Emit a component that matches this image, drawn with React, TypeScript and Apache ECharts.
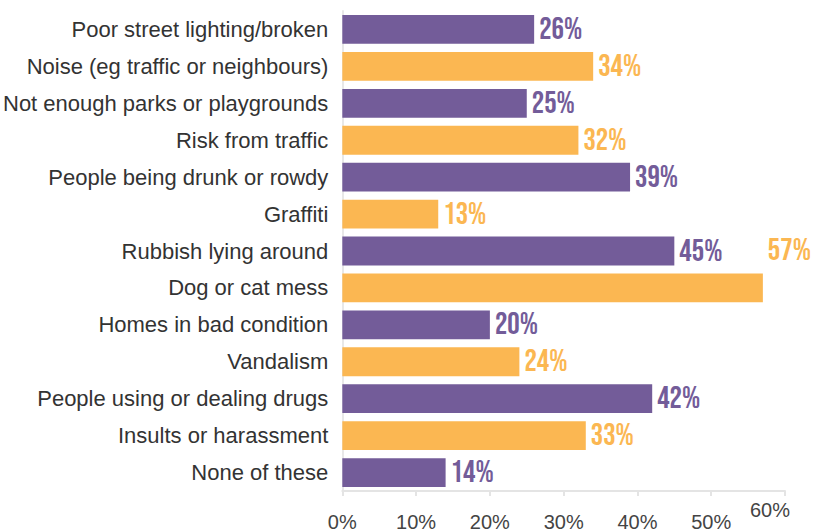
import React, { useEffect, useRef } from "react";
import * as echarts from "echarts";

const categories = [
  "Poor street lighting/broken",
  "Noise (eg traffic or neighbours)",
  "Not enough parks or playgrounds",
  "Risk from traffic",
  "People being drunk or rowdy",
  "Graffiti",
  "Rubbish lying around",
  "Dog or cat mess",
  "Homes in bad condition",
  "Vandalism",
  "People using or dealing drugs",
  "Insults or harassment",
  "None of these",
];
const values = [26, 34, 25, 32, 39, 13, 45, 57, 20, 24, 42, 33, 14];
const xTicks = [0, 10, 20, 30, 40, 50, 60];

const PURPLE = "#735c99";
const ORANGE = "#fbb752";
const LABEL_FONT = "Bebas Neue, Oswald, Roboto Condensed, sans-serif";
const AXIS_FONT = "Liberation Sans, Arial, sans-serif";

export default function App() {
  const ref = useRef<HTMLDivElement>(null);
  useEffect(() => {
    const chart = echarts.init(ref.current!, null, { renderer: "svg" });
    const maxV = Math.max(...values);
    const data = values.map((v, i) => {
      const color = i % 2 === 0 ? PURPLE : ORANGE;
      const item: any = {
        value: v,
        itemStyle: { color },
        label: { color },
      };
      if (v === maxV) {
        item.label = { color, offset: [0, -37] };
      }
      return item;
    });
    chart.setOption({
      animation: false,
      grid: { left: 342, right: 39, top: 11, bottom: 37, containLabel: false },
      xAxis: {
        type: "value",
        min: xTicks[0],
        max: xTicks[xTicks.length - 1],
        interval: 10,
        splitLine: { show: false },
        axisLine: { show: true, lineStyle: { color: "#e4e4e4", width: 2 } },
        axisTick: { show: true, length: 5, lineStyle: { color: "#e4e4e4", width: 2 } },
        axisLabel: {
          margin: 9,
          color: "#444",
          fontSize: 20,
          fontFamily: AXIS_FONT,
          formatter: (v: number) =>
            v === xTicks[xTicks.length - 1] ? `{hi|${v}%}` : `{lo|${v}%}`,
          rich: {
            hi: {
              fontSize: 20,
              color: "#444",
              fontFamily: AXIS_FONT,
              padding: [0, 30, 0, 0],
            },
            lo: {
              fontSize: 20,
              color: "#444",
              fontFamily: AXIS_FONT,
              padding: [12, 0, 0, 0],
            },
          },
        },
      },
      yAxis: {
        type: "category",
        inverse: true,
        data: categories,
        axisLine: { show: true, lineStyle: { color: "#e8e8e8", width: 2 } },
        axisTick: { show: false },
        axisLabel: {
          margin: 14,
          color: "#333",
          fontSize: 22,
          fontFamily: AXIS_FONT,
        },
      },
      series: [
        {
          type: "bar",
          data,
          barCategoryGap: "22%",
          label: {
            show: true,
            position: "right",
            distance: 5,
            formatter: "{c}%",
            fontSize: 31,
            fontWeight: "normal",
            fontFamily: LABEL_FONT,
          },
        },
      ],
    });
    return () => chart.dispose();
  }, []);
  return <div ref={ref} style={{ width: 824, height: 532, position: "absolute", left: 0, top: 0 }} />;
}
